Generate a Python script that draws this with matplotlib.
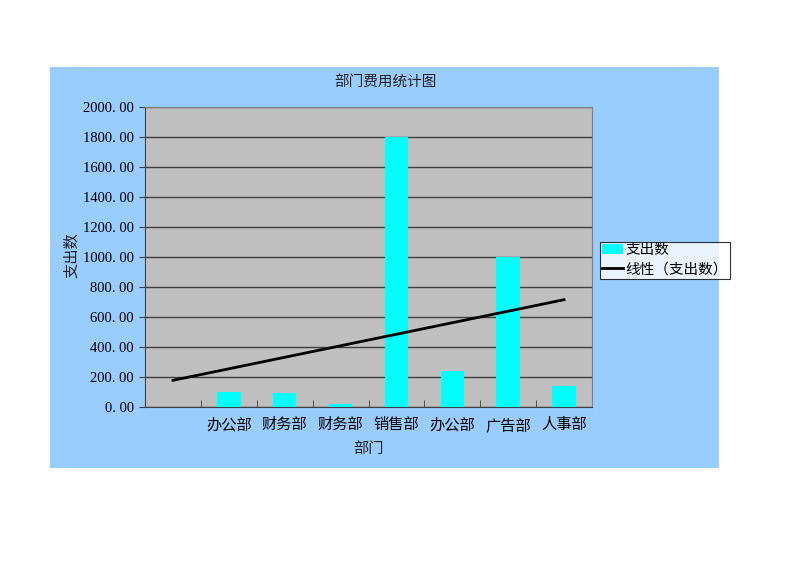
import numpy as np
import matplotlib
matplotlib.use('Agg')
from matplotlib import pyplot as plt
from matplotlib.patches import Rectangle

plt.rcParams['font.family'] = ['Liberation Serif', 'Noto Sans CJK SC', 'DejaVu Sans']

# data (first slot is an empty category)
departments = ['', '办公部', '财务部', '财务部', '销售部', '办公部', '广告部', '人事部']
spending = [np.nan, 100, 95, 20, 1800, 240, 1000, 140]
y_ticks = [0, 200, 400, 600, 800, 1000, 1200, 1400, 1600, 1800, 2000]

fig = plt.figure(figsize=(8, 5.66), dpi=100)
fig.patch.set_facecolor('white')

# blue chart area
fig.patches.append(Rectangle((50 / 800, 1 - 468 / 566), 669 / 800, 401 / 566,
                             transform=fig.transFigure, facecolor='#99CCFF',
                             edgecolor='none', zorder=-10))

ax = fig.add_axes([145 / 800, 1 - 407 / 566, 447 / 800, 300 / 566])
ax.set_facecolor('#C0C0C0')

x = np.arange(1, len(departments) + 1)
vals = np.array(spending, dtype=float)
bars = ax.bar(x, np.nan_to_num(vals), width=0.42, color='#00FFFF', label='支出数', zorder=3)

# linear trend fitted on the non-empty points
mask = ~np.isnan(vals)
slope, inter = np.polyfit(x[mask], vals[mask], 1)
trend, = ax.plot(x, slope * x + inter, color='black', lw=2, label='线性（支出数）', zorder=4)

ax.set_xlim(0.5, len(departments) + 0.5)
ax.set_ylim(0, 2000)
ax.set_yticks(y_ticks)
ax.set_yticklabels([f'{v:.2f}'.replace('.', '. ') for v in y_ticks], fontsize=10.5)
ax.yaxis.grid(True, color='#404040', lw=1)
ax.set_axisbelow(True)

ax.set_xticks(x)
ax.set_xticklabels(departments, fontsize=11)
ax.tick_params(axis='x', length=0, pad=8)
ax.set_xticks(np.arange(1.5, len(departments) + 0.5), minor=True)
ax.tick_params(axis='x', which='minor', direction='in', length=5, color='#404040')
ax.tick_params(axis='y', length=4, color='#404040', pad=4)

for side in ['top', 'right']:
    ax.spines[side].set_color('#808080')
for side in ['left', 'bottom']:
    ax.spines[side].set_color('#404040')

fig.text(385 / 800, 1 - 83 / 566, '部门费用统计图', ha='center', va='center', fontsize=10.5, color='#222222')
fig.text(72 / 800, 1 - 255 / 566, '支出数', ha='center', va='center', rotation=90, fontsize=11, color='#222222')
fig.text(368 / 800, 1 - 449 / 566, '部门', ha='center', va='center', fontsize=11, color='#222222')

leg = ax.legend([bars, trend], ['支出数', '线性（支出数）'], loc='upper left',
                bbox_to_anchor=(600 / 800, 1 - 242 / 566),
                bbox_transform=fig.transFigure, frameon=True, fancybox=False,
                fontsize=10.5, borderpad=0.15, handlelength=1.4, handletextpad=0.2,
                labelspacing=0.35, borderaxespad=0)
leg.get_frame().set_edgecolor('black')
leg.get_frame().set_linewidth(0.8)

fig.savefig('out.png', dpi=100, facecolor='white')
